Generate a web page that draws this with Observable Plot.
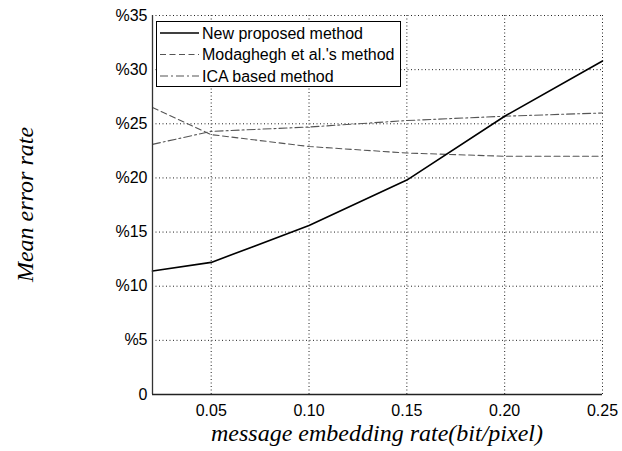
<!DOCTYPE html>
<html>
<head>
<meta charset="utf-8">
<script src="https://cdn.jsdelivr.net/npm/d3@7"></script>
<script src="https://cdn.jsdelivr.net/npm/@observablehq/plot@0.6"></script>
<style>
  html, body { margin: 0; padding: 0; background: #fff; }
  #chart { width: 622px; height: 451px; }
</style>
</head>
<body>
<div id="chart"></div>
<script>
const rates = [0.02, 0.05, 0.10, 0.15, 0.20, 0.25];
const newMethod = [11.4, 12.2, 15.6, 19.8, 25.7, 30.8];
const modaghegh = [26.5, 24.0, 22.9, 22.3, 22.0, 22.0];
const ica = [23.1, 24.3, 24.7, 25.3, 25.7, 26.0];
const seriesNames = ["New proposed method", "Modaghegh et al.'s method", "ICA based method"];
const xTicks = [0.05, 0.10, 0.15, 0.20, 0.25];
const yTicks = [0, 5, 10, 15, 20, 25, 30, 35];
const xTitle = "message embedding rate(bit/pixel)";
const yTitle = "Mean error rate";

const styles = [
  {stroke: "#000", strokeWidth: 1.6, dash: null},
  {stroke: "#555", strokeWidth: 1.1, dash: "6,3.5"},
  {stroke: "#555", strokeWidth: 1.1, dash: "8,3,2,3"}
];
const values = [newMethod, modaghegh, ica];
const data = [];
values.forEach((arr, s) => arr.forEach((v, i) => data.push({series: seriesNames[s], x: rates[i], y: v})));

const W = 622, H = 451;
const mL = 152, mR = 20, mT = 15, mB = 57;

const lineMark = s => Plot.line(data.filter(d => d.series === seriesNames[s]), {
  x: "x", y: "y", stroke: styles[s].stroke, strokeWidth: styles[s].strokeWidth,
  strokeDasharray: styles[s].dash
});

const plot = Plot.plot({
  width: W, height: H,
  marginLeft: mL, marginRight: mR, marginTop: mT, marginBottom: mB,
  style: {fontFamily: "Liberation Sans, Arial, sans-serif", fontSize: "16px", color: "#000", background: "#fff"},
  x: {domain: [0.02, 0.25]},
  y: {domain: [0, 35]},
  marks: [
    Plot.gridX(xTicks, {stroke: "#222", strokeOpacity: 1, strokeDasharray: "1,2.5", strokeWidth: 1}),
    Plot.gridY(yTicks.filter(t => t > 0), {stroke: "#222", strokeOpacity: 1, strokeDasharray: "1,2.5", strokeWidth: 1}),
    Plot.axisX(xTicks, {tickSize: 0, tickPadding: 10, tickFormat: d => d.toFixed(2), label: null, fontSize: 16}),
    Plot.axisY(yTicks, {tickSize: 0, tickPadding: 5, tickFormat: d => d === 0 ? "0" : "%" + d, label: null, fontSize: 16}),
    lineMark(2),
    lineMark(1),
    lineMark(0),
    Plot.ruleX([0.02], {stroke: "#333", strokeWidth: 1.3}),
    Plot.ruleY([0], {stroke: "#222", strokeWidth: 1.3})
  ]
});
document.getElementById("chart").appendChild(plot);

const svg = d3.select(plot);
// axis titles
svg.append("text")
  .attr("x", (mL + W - mR) / 2).attr("y", 441)
  .attr("text-anchor", "middle")
  .style("font-family", "Liberation Serif, Times New Roman, serif")
  .style("font-style", "italic").style("font-size", "24px")
  .attr("fill", "#000")
  .text(xTitle);
svg.append("text")
  .attr("transform", `translate(33,${(mT + H - mB) / 2}) rotate(-90)`)
  .attr("text-anchor", "middle")
  .style("font-family", "Liberation Serif, Times New Roman, serif")
  .style("font-style", "italic").style("font-size", "24px")
  .attr("fill", "#000")
  .text(yTitle);

// legend
const lg = svg.append("g").attr("text-anchor", "start");
lg.append("rect").attr("x", 156.5).attr("y", 21.5).attr("width", 244).attr("height", 65)
  .attr("fill", "#fff").attr("stroke", "#000").attr("stroke-width", 1);
const rowY = [33, 54.5, 76];
seriesNames.forEach((name, i) => {
  lg.append("line").attr("x1", 160).attr("x2", 199).attr("y1", rowY[i]).attr("y2", rowY[i])
    .attr("stroke", styles[i].stroke).attr("stroke-width", styles[i].strokeWidth)
    .attr("stroke-dasharray", styles[i].dash);
  lg.append("text").attr("x", 202).attr("y", rowY[i]).attr("dy", "0.35em")
    .attr("text-anchor", "start")
    .style("font-family", "Liberation Sans, Arial, sans-serif").style("font-size", "16px")
    .attr("fill", "#000").text(name);
});
</script>
</body>
</html>
